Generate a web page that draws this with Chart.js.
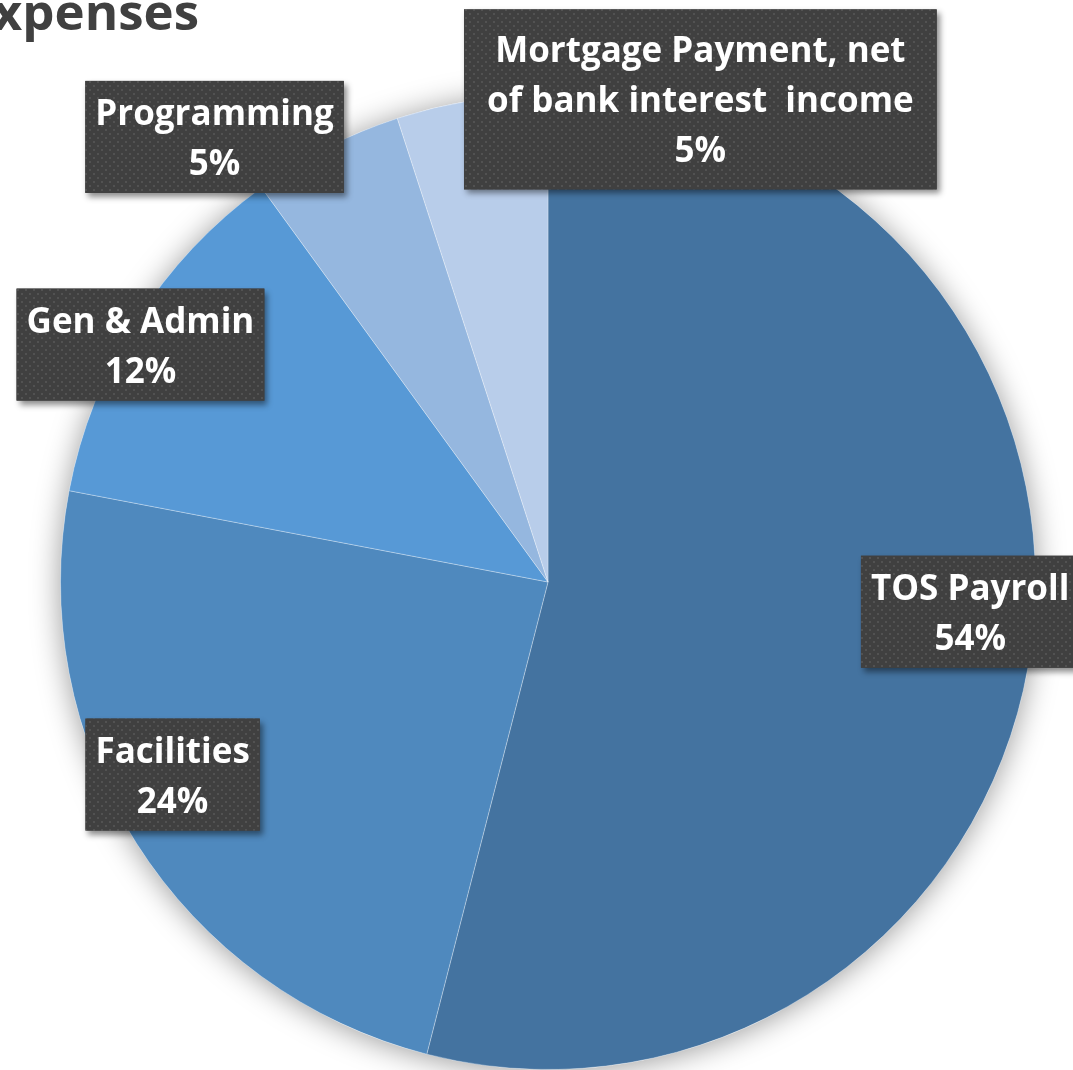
<!DOCTYPE html>
<html>
<head>
<meta charset="utf-8">
<script src="https://cdn.jsdelivr.net/npm/chart.js@4.4.1/dist/chart.umd.min.js"></script>
<style>
  html, body { margin: 0; padding: 0; background: #fff; overflow: hidden; }
  #wrap { width: 1073px; height: 1070px; position: relative; }
</style>
</head>
<body>
<div id="wrap"><canvas id="pie" width="1073" height="1070"></canvas></div>
<script>
// chart data
const titleText = 'Expenses';
const categories = [
  'TOS Payroll',
  'Facilities',
  'Gen & Admin',
  'Programming',
  ['Mortgage Payment, net', 'of bank interest  income']
];
const values = [54, 24, 12, 5, 5];
const sliceColors = ['#4473a0', '#4f89be', '#5799d6', '#95b7df', '#b8cdea'];

// where each label box sits, as offsets from the pie centre in radius units,
// plus horizontal / vertical padding inside the box
const labelSpots = [
  { dx: 0.866, dy: 0.061, padX: 10, padY: 19 },
  { dx: -0.770, dy: 0.395, padX: 10, padY: 19 },
  { dx: -0.836, dy: -0.487, padX: 10, padY: 19 },
  { dx: -0.684, dy: -0.913, padX: 10, padY: 19 },
  { dx: 0.3125, dy: -0.990, padX: 23, padY: 28 }
];

const FONT = '"Open Sans", Calibri, Lato, sans-serif';

// dotted dark texture used by the label boxes
function makeDots() {
  const c = document.createElement('canvas');
  c.width = 8; c.height = 8;
  const g = c.getContext('2d');
  g.fillStyle = '#404040';
  g.fillRect(0, 0, 8, 8);
  g.fillStyle = '#525252';
  g.fillRect(1, 1, 2, 2);
  g.fillRect(5, 5, 2, 2);
  return c;
}

const pieShadow = {
  id: 'pieShadow',
  beforeDatasetsDraw(chart) {
    const arc = chart.getDatasetMeta(0).data[0];
    if (!arc) return;
    const ctx = chart.ctx;
    ctx.save();
    ctx.shadowColor = 'rgba(0,0,0,0.4)';
    ctx.shadowBlur = 30;
    ctx.shadowOffsetY = 2;
    ctx.fillStyle = '#ffffff';
    ctx.beginPath();
    ctx.arc(arc.x, arc.y, arc.outerRadius, 0, Math.PI * 2);
    ctx.fill();
    ctx.restore();
  }
};

const boxLabels = {
  id: 'boxLabels',
  afterDatasetsDraw(chart) {
    const ctx = chart.ctx;
    const meta = chart.getDatasetMeta(0);
    const total = values.reduce((a, b) => a + b, 0);
    const pattern = ctx.createPattern(makeDots(), 'repeat');
    const lineH = 50;
    ctx.save();
    ctx.font = 'bold 35px ' + FONT;
    meta.data.forEach((arc, i) => {
      const spot = labelSpots[i];
      const name = categories[i];
      const lines = (Array.isArray(name) ? name.slice() : [name]);
      lines.push(Math.round(values[i] / total * 100) + '%');
      const w = Math.max(...lines.map(l => ctx.measureText(l).width)) + spot.padX * 2;
      const h = lines.length * lineH + spot.padY * 2 - 26;
      const cx = arc.x + spot.dx * arc.outerRadius;
      const cy = arc.y + spot.dy * arc.outerRadius;
      const x0 = cx - w / 2, y0 = cy - h / 2;

      ctx.save();
      ctx.shadowColor = 'rgba(0,0,0,0.45)';
      ctx.shadowBlur = 6;
      ctx.shadowOffsetX = 3;
      ctx.shadowOffsetY = 4;
      ctx.fillStyle = '#404040';
      ctx.fillRect(x0, y0, w, h);
      ctx.restore();
      ctx.fillStyle = pattern;
      ctx.fillRect(x0, y0, w, h);

      ctx.fillStyle = '#ffffff';
      ctx.textAlign = 'center';
      ctx.textBaseline = 'alphabetic';
      const firstBase = y0 + spot.padY + 25;
      lines.forEach((l, k) => ctx.fillText(l, cx, firstBase + k * lineH));
    });
    ctx.restore();
  }
};

const cutTitle = {
  id: 'cutTitle',
  afterDraw(chart) {
    const ctx = chart.ctx;
    ctx.save();
    ctx.font = 'bold 51px ' + FONT;
    ctx.fillStyle = '#404040';
    ctx.textAlign = 'right';
    ctx.textBaseline = 'alphabetic';
    ctx.fillText(titleText, 199, 30);
    ctx.restore();
  }
};

new Chart(document.getElementById('pie'), {
  type: 'pie',
  data: {
    labels: categories,
    datasets: [{
      data: values,
      backgroundColor: sliceColors,
      borderColor: 'rgba(255,255,255,0.3)',
      borderWidth: 1
    }]
  },
  options: {
    responsive: false,
    animation: false,
    layout: { padding: { left: 60, right: 37, top: 94, bottom: 0 } },
    plugins: {
      legend: { display: false },
      tooltip: { enabled: false },
      title: { display: false }
    }
  },
  plugins: [pieShadow, boxLabels, cutTitle]
});
</script>
</body>
</html>
